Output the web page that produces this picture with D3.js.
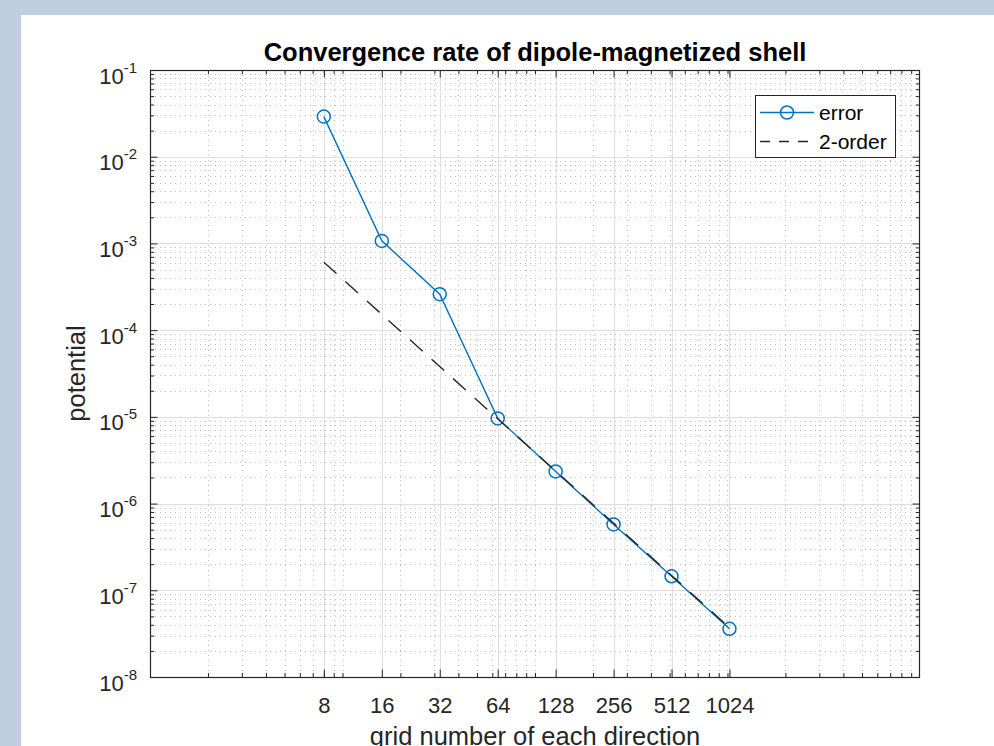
<!DOCTYPE html>
<html>
<head>
<meta charset="utf-8">
<script src="https://cdn.jsdelivr.net/npm/d3@7"></script>
<style>
  html, body { margin: 0; padding: 0; }
  svg { display: block; font-family: "Liberation Sans", Arial, Helvetica, sans-serif; }
</style>
</head>
<body>
<svg id="chart" width="994" height="746"></svg>
<script>
// Grid resolutions (points per direction)
const gridN = [8, 16, 32, 64, 128, 256, 512, 1024];
// Measured potential error at each resolution
const errorVals = [2.9e-2, 1.07e-3, 2.6e-4, 9.6e-6, 2.35e-6, 5.75e-7, 1.45e-7, 3.6e-8];
// Reference second-order slope line
const secondOrderVals = [6.08e-4, 1.52e-4, 3.8e-5, 9.5e-6, 2.375e-6, 5.94e-7, 1.484e-7, 3.71e-8];
// Axis tick labels
const xTickLabels = ["8", "16", "32", "64", "128", "256", "512", "1024"];
const yTickExponents = [-8, -7, -6, -5, -4, -3, -2, -1];
const seriesNames = ["error", "2-order"];
const titleText = "Convergence rate of dipole-magnetized shell";
const xLabelText = "grid number of each direction";
const yLabelText = "potential";

const W = 994, H = 746;
const box = { left: 150, top: 70, right: 920, bottom: 677 };
const ink = "#262626";
const blue = "#0072BD";

const svg = d3.select("#chart");
svg.append("rect").attr("width", W).attr("height", H).attr("fill", "#bfcfe1");
svg.append("rect").attr("x", 21).attr("y", 15).attr("width", W - 21).attr("height", H - 15).attr("fill", "#ffffff");

const x = d3.scaleLog().domain([1, 1e4]).range([box.left, box.right]);
const y = d3.scaleLog().domain([1e-8, 1e-1]).range([box.bottom, box.top]);

// Log-scale minor positions
const xMinor = [];
for (let k = 0; k <= 3; k++) {
  for (let m = 1; m <= 9; m++) {
    const v = m * Math.pow(10, k);
    if (v > 1 && v < 1e4) xMinor.push(v);
  }
}
const yMinor = [];
for (let k = -8; k <= -2; k++) {
  for (let m = 2; m <= 9; m++) yMinor.push(m * Math.pow(10, k));
}
const yMajor = yTickExponents.map(e => Math.pow(10, e));

// Grid: dotted minor lines, solid light major lines
const grid = svg.append("g").attr("class", "grid");
grid.selectAll("line.xminor").data(xMinor).join("line")
  .attr("x1", d => Math.round(x(d)) + 0.5).attr("x2", d => Math.round(x(d)) + 0.5)
  .attr("y1", box.top).attr("y2", box.bottom)
  .attr("stroke", "#bdbdbd").attr("stroke-width", 1).attr("stroke-dasharray", "1,4");
grid.selectAll("line.yminor").data(yMinor).join("line")
  .attr("y1", d => Math.round(y(d)) + 0.5).attr("y2", d => Math.round(y(d)) + 0.5)
  .attr("x1", box.left).attr("x2", box.right)
  .attr("stroke", "#bdbdbd").attr("stroke-width", 1).attr("stroke-dasharray", "1,4");
grid.selectAll("line.xmajor").data(gridN).join("line")
  .attr("x1", d => Math.round(x(d)) + 0.5).attr("x2", d => Math.round(x(d)) + 0.5)
  .attr("y1", box.top).attr("y2", box.bottom)
  .attr("stroke", "#dedede").attr("stroke-width", 1);
grid.selectAll("line.ymajor").data(yMajor).join("line")
  .attr("y1", d => Math.round(y(d)) + 0.5).attr("y2", d => Math.round(y(d)) + 0.5)
  .attr("x1", box.left).attr("x2", box.right)
  .attr("stroke", "#dedede").attr("stroke-width", 1);

// Series
const pts = gridN.map((n, i) => ({ n, err: errorVals[i], ref: secondOrderVals[i] }));
const errLine = d3.line().x(d => x(d.n)).y(d => y(d.err));
const refLine = d3.line().x(d => x(d.n)).y(d => y(d.ref));

svg.append("path").datum(pts).attr("d", errLine)
  .attr("fill", "none").attr("stroke", blue).attr("stroke-width", 1.4);
svg.append("g").selectAll("circle").data(pts).join("circle")
  .attr("cx", d => x(d.n)).attr("cy", d => y(d.err)).attr("r", 6.5)
  .attr("fill", "none").attr("stroke", blue).attr("stroke-width", 1.5);
svg.append("path").datum(pts).attr("d", refLine)
  .attr("fill", "none").attr("stroke", ink).attr("stroke-width", 1.4)
  .attr("stroke-dasharray", "17,12");

// Axes (ticks point inward, box on)
function styleAxis(g) {
  g.select(".domain").remove();
  g.selectAll(".tick line").attr("stroke", ink).attr("stroke-width", 1);
}
const fmtNone = () => "";
const major = 7.5, minor = 4;

// bottom
svg.append("g").attr("transform", `translate(0,${box.bottom})`)
  .call(d3.axisBottom(x).tickValues(xMinor).tickFormat(fmtNone).tickSizeInner(-minor).tickSizeOuter(0))
  .call(styleAxis).selectAll("text").remove();
const xb = svg.append("g").attr("transform", `translate(0,${box.bottom})`)
  .call(d3.axisBottom(x).tickValues(gridN).tickFormat((d, i) => xTickLabels[i])
    .tickSizeInner(-major).tickSizeOuter(0).tickPadding(20))
  .call(styleAxis);
xb.selectAll("text").attr("fill", ink).style("font-size", "22px")
  .attr("font-family", "Liberation Sans, Arial, sans-serif");

// top
svg.append("g").attr("transform", `translate(0,${box.top})`)
  .call(d3.axisTop(x).tickValues(xMinor).tickFormat(fmtNone).tickSizeInner(-minor).tickSizeOuter(0))
  .call(styleAxis).selectAll("text").remove();
svg.append("g").attr("transform", `translate(0,${box.top})`)
  .call(d3.axisTop(x).tickValues(gridN).tickFormat(fmtNone).tickSizeInner(-major).tickSizeOuter(0))
  .call(styleAxis).selectAll("text").remove();

// left
svg.append("g").attr("transform", `translate(${box.left},0)`)
  .call(d3.axisLeft(y).tickValues(yMinor).tickFormat(fmtNone).tickSizeInner(-minor).tickSizeOuter(0))
  .call(styleAxis).selectAll("text").remove();
const yl = svg.append("g").attr("transform", `translate(${box.left},0)`)
  .call(d3.axisLeft(y).tickValues(yMajor).tickFormat(fmtNone).tickSizeInner(-major).tickSizeOuter(0))
  .call(styleAxis);
yl.selectAll(".tick text").remove();
yl.selectAll(".tick").each(function (d, i) {
  const t = d3.select(this).append("text")
    .attr("x", -13).attr("y", 13)
    .attr("text-anchor", "end").attr("fill", ink)
    .style("font-size", "22px");
  t.append("tspan").text("10");
  t.append("tspan").attr("dy", -11).style("font-size", "15px").text(String(yTickExponents[i]));
});

// right
svg.append("g").attr("transform", `translate(${box.right},0)`)
  .call(d3.axisRight(y).tickValues(yMinor).tickFormat(fmtNone).tickSizeInner(-minor).tickSizeOuter(0))
  .call(styleAxis).selectAll("text").remove();
svg.append("g").attr("transform", `translate(${box.right},0)`)
  .call(d3.axisRight(y).tickValues(yMajor).tickFormat(fmtNone).tickSizeInner(-major).tickSizeOuter(0))
  .call(styleAxis).selectAll("text").remove();

// Axes box
svg.append("rect")
  .attr("x", box.left + 0.5).attr("y", box.top + 0.5)
  .attr("width", box.right - box.left - 1).attr("height", box.bottom - box.top)
  .attr("fill", "none").attr("stroke", ink).attr("stroke-width", 1.2);

// Title and axis labels
svg.append("text").attr("x", (box.left + box.right) / 2).attr("y", 61)
  .attr("text-anchor", "middle").attr("fill", "#000").attr("font-weight", "bold")
  .style("font-size", "25.5px").text(titleText);
svg.append("text").attr("x", (box.left + box.right) / 2).attr("y", 745)
  .attr("text-anchor", "middle").attr("fill", ink)
  .style("font-size", "25.5px").text(xLabelText);
svg.append("text")
  .attr("transform", `translate(85,${(box.top + box.bottom) / 2}) rotate(-90)`)
  .attr("text-anchor", "middle").attr("fill", ink)
  .style("font-size", "25.5px").text(yLabelText);

// Legend
const lg = svg.append("g").attr("transform", "translate(755,95)");
lg.append("rect").attr("x", 0.5).attr("y", 0.5).attr("width", 140).attr("height", 62)
  .attr("fill", "#fff").attr("stroke", ink).attr("stroke-width", 1);
lg.append("line").attr("x1", 5).attr("x2", 59).attr("y1", 17.5).attr("y2", 17.5)
  .attr("stroke", blue).attr("stroke-width", 1.4);
lg.append("circle").attr("cx", 32).attr("cy", 17.5).attr("r", 6.5)
  .attr("fill", "none").attr("stroke", blue).attr("stroke-width", 1.5);
lg.append("line").attr("x1", 5).attr("x2", 59).attr("y1", 46.5).attr("y2", 46.5)
  .attr("stroke", ink).attr("stroke-width", 1.4).attr("stroke-dasharray", "10,9");
lg.selectAll("text.item").data(seriesNames).join("text")
  .attr("x", 64).attr("y", (d, i) => 17.5 + i * 29).attr("dy", "0.35em")
  .attr("fill", "#000").style("font-size", "21px").text(d => d);
</script>
</body>
</html>
